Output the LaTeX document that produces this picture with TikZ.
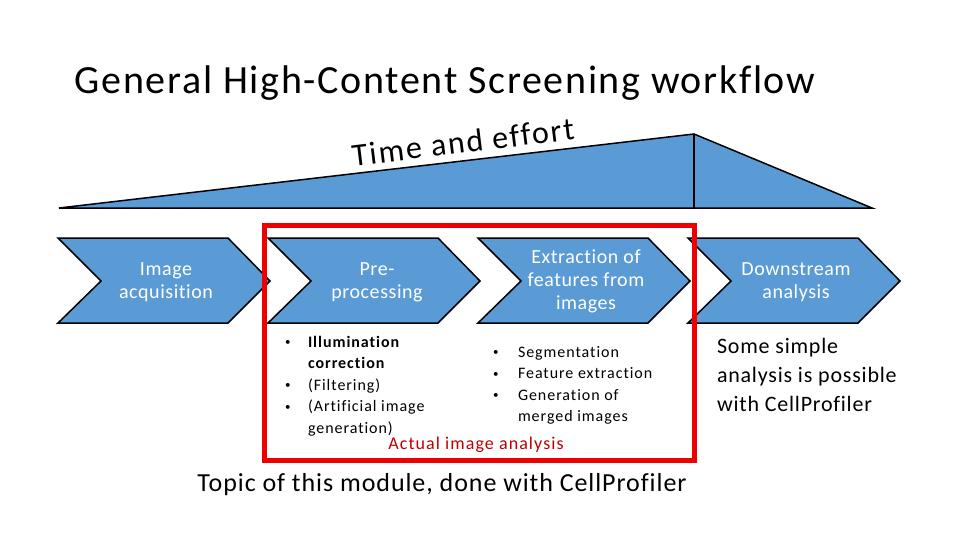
\documentclass[tikz,border=0pt]{standalone}
\usepackage{fontspec}
\setmainfont{Carlito}[Ligatures=NoCommon]
\newfontfamily\spA{Carlito}[LetterSpace=3.6,Ligatures=NoCommon]
\newfontfamily\spB{Carlito}[LetterSpace=4.2,Ligatures=NoCommon]
\newfontfamily\spC{Carlito}[LetterSpace=6,Ligatures=NoCommon]
\newfontfamily\spD{Carlito}[LetterSpace=2.8,Ligatures=NoCommon]
\definecolor{bluefill}{HTML}{5B9BD5}
\definecolor{redbox}{HTML}{EE0000}
\definecolor{redtext}{HTML}{C00000}
\newcommand{\fs}[2]{\fontsize{#1}{#2}\selectfont}
\newcommand{\blt}{\raisebox{1.5pt}{\fs{11}{11}•}}
\tikzset{
  chev/.style={draw=black,line width=1.5pt,fill=bluefill,line join=miter},
  chevtext/.style={text=white,align=center,font=\spD\fs{20}{23}},
  plain/.style={inner sep=0pt,outer sep=0pt},
  bullets/.style={plain,anchor=west,font=\spC\fs{16}{21.5}},
}
\begin{document}
\begin{tikzpicture}[x=1pt,y=-1pt]
\useasboundingbox (0,0) rectangle (960,540);
\node[plain,font=\spB\fs{40}{44}] (title) at (445,83) {General High-Content Screening workflow};
\node[plain,font=\spC\fs{32}{36},rotate=7] (effort) at (463,142) {Time and effort};
% ramp
\draw[chev] (59,208) -- (694,134) -- (872,208) -- cycle;
\draw[black,line width=1.5pt] (694,134) -- (694,208);
% chevrons
\draw[chev] (58,238) -- (228,238) -- (270,281) -- (228,323) -- (58,323) -- (101,281) -- cycle;
\draw[chev] (268,238) -- (438,238) -- (480,281) -- (438,323) -- (268,323) -- (311,281) -- cycle;
\draw[chev] (478,238) -- (648,238) -- (690,281) -- (648,323) -- (478,323) -- (521,281) -- cycle;
\draw[chev] (688,238) -- (858,238) -- (900,281) -- (858,323) -- (688,323) -- (731,281) -- cycle;
\node[chevtext] (s1) at (166,282) {Image\\acquisition};
\node[chevtext] (s2) at (377,282) {Pre-\\processing};
\node[chevtext] (s3) at (586,281) {Extraction of\\features from\\images};
\node[chevtext] (s4) at (796,282) {Downstream\\analysis};
% lists
\node[bullets] (l1) at (285,386) {\begin{tabular}{@{}p{15pt}@{\hspace{8pt}}l@{}}
\blt&\textbf{Illumination}\\ &\textbf{correction}\\ \blt&(Filtering)\\ \blt&(Artificial image\\ &generation)
\end{tabular}};
\node[bullets] (l2) at (493,385) {\begin{tabular}{@{}p{17pt}@{\hspace{8pt}}l@{}}
\blt&Segmentation\\ \blt&Feature extraction\\ \blt&Generation of\\ &merged images
\end{tabular}};
% red frame
\draw[redbox,line width=5pt,line join=miter] (264.5,225.5) rectangle (694.5,460.5);
\node[plain,text=redtext,font=\spC\fs{18}{21}] (actual) at (476,445) {Actual image analysis};
\node[plain,font=\spA\fs{26}{30}] (topic) at (442,485) {Topic of this module, done with CellProfiler};
\node[plain,anchor=west,align=left,font=\spA\fs{22}{29}] (some) at (717,375) {Some simple\\analysis is possible\\with CellProfiler};
\end{tikzpicture}
\end{document}
